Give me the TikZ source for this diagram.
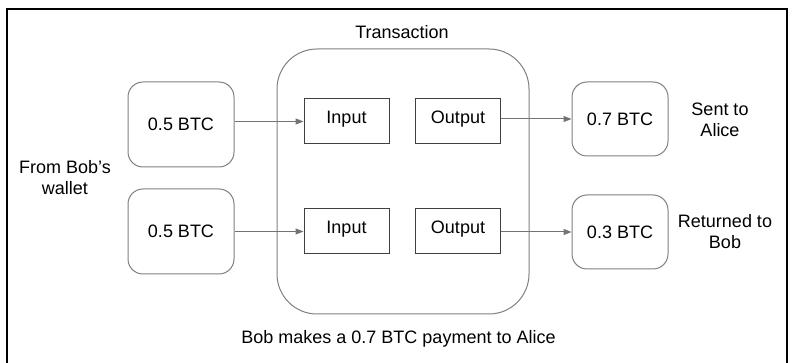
\documentclass[tikz,border=0pt]{standalone}
\usepackage{fontspec}
\setmainfont{Liberation Sans}
\usetikzlibrary{arrows.meta}
\begin{document}
\begin{tikzpicture}[x=1pt,y=-1pt,
  every node/.style={font=\fontsize{18}{21}\selectfont, text=black},
  coin/.style={draw=black!50, line width=1pt, rounded corners=15pt, minimum width=106pt, minimum height=85pt, inner sep=0pt},
  dest/.style={draw=black!50, line width=1pt, rounded corners=15pt, minimum width=96pt, minimum height=74pt, inner sep=0pt},
  port/.style={draw=black!75, line width=1pt, minimum width=85pt, minimum height=45pt, inner sep=0pt},
  flow/.style={draw=black!55, line width=1pt, -{Triangle[length=8pt,width=6pt]}},
  caption/.style={align=center, inner sep=0pt}]
\useasboundingbox (0,0) rectangle (793,363);
\begin{scope}
\clip (0,0) rectangle (793,363);
% outer frame
\draw[line width=2pt, black] (7,9) rectangle (787,400);
\end{scope}

% transaction container
\node[draw=black!50, line width=1pt, rounded corners=40pt, minimum width=252pt, minimum height=265pt, inner sep=0pt] (tx) at (403,181.5) {};
\node[caption] (txlabel) at (402,32) {Transaction};

% coins from Bob's wallet
\node[coin] (bob1) at (181,124.5) {0.5 BTC};
\node[coin] (bob2) at (181,231.5) {0.5 BTC};
\node[caption] (from) at (65,177.5) {From Bob’s\\wallet};

% inputs and outputs (labels sit a little above centre)
\node[port] (in1) at (346.5,121.5) {};
\node[port] (out1) at (458,121.5) {};
\node[port] (in2) at (346.5,231.5) {};
\node[port] (out2) at (458,231.5) {};
\node[caption] (in1t) at ([yshift=2pt]in1.center) {Input};
\node[caption] (out1t) at ([yshift=2pt]out1.center) {Output};
\node[caption] (in2t) at ([yshift=2pt]in2.center) {Input};
\node[caption] (out2t) at ([yshift=2pt]out2.center) {Output};

% destinations
\node[dest] (alice) at (620,119) {0.7 BTC};
\node[dest] (change) at (620,232) {0.3 BTC};
\node[caption] (sent) at (720,120) {Sent to\\Alice};
\node[caption] (ret) at (725,232) {Returned to\\Bob};

% connectors
\draw[flow] (bob1.east |- in1.west) -- (in1.west);
\draw[flow] (bob2.east |- in2.west) -- (in2.west);
\draw[flow] (out1.east |- alice.west) -- (alice.west);
\draw[flow] (out2.east |- change.west) -- (change.west);

\node[caption] (note) at (398.5,339) {Bob makes a 0.7 BTC payment to Alice};
\end{tikzpicture}
\end{document}
